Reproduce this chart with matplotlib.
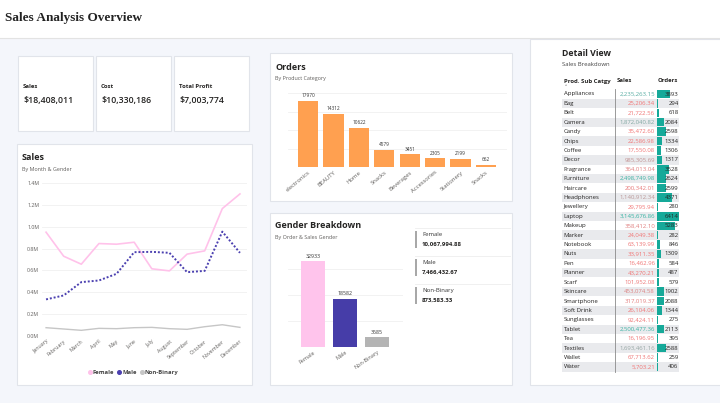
import matplotlib
matplotlib.use('Agg')
import matplotlib.pyplot as plt
from matplotlib.patches import Rectangle
from matplotlib.lines import Line2D
import matplotlib.colors as mcolors
import numpy as np

# ---------------- data ----------------
kpi_labels = ["Sales", "Cost", "Total Profit"]
kpi_values = ["$18,408,011", "$10,330,186", "$7,003,774"]

months = ["January", "February", "March", "April", "May", "June", "July",
          "August", "September", "October", "November", "December"]
female_sales = [950000, 730000, 657000, 846000, 840000, 858000, 615000,
                596000, 749000, 779000, 1166000, 1300000]
male_sales = [335000, 371000, 493000, 508000, 569000, 767000, 770000,
              761000, 584000, 596000, 955000, 761000]
nb_sales = [76000, 64000, 52000, 70000, 67000, 76000, 79000, 67000,
            61000, 85000, 103000, 79000]

order_cats = ["electronics", "BEAUTY", "Home", "Snacks", "Beverages",
              "Accessories", "Stationery", "Snacks"]
order_vals = [17970, 14312, 10622, 4579, 3451, 2305, 2199, 662]

genders = ["Female", "Male", "Non-Binary"]
gender_orders = [32933, 18582, 3685]
gender_sales_txt = ["10,067,994.88", "7,466,432.67", "873,583.33"]

sub_cats = ["Appliances", "Bag", "Belt", "Camera", "Candy", "Chips", "Coffee",
            "Decor", "Fragrance", "Furniture", "Haircare", "Headphones",
            "Jewellery", "Laptop", "Makeup", "Marker", "Notebook", "Nuts",
            "Pen", "Planner", "Scarf", "Skincare", "Smartphone", "Soft Drink",
            "Sunglasses", "Tablet", "Tea", "Textiles", "Wallet", "Water"]
sub_sales = [2235263.15, 25206.34, 21722.56, 1872040.82, 35472.60, 22586.98,
             17550.08, 985305.69, 364013.04, 2498749.98, 200342.01, 1140912.34,
             29795.94, 3145676.86, 358412.10, 24049.38, 63139.99, 33911.35,
             16462.96, 43270.21, 101952.08, 453074.58, 317019.37, 26104.06,
             92424.11, 2500477.36, 16196.95, 1693461.16, 67713.62, 5703.21]
sub_orders = [3893, 294, 618, 2084, 2598, 1334, 1306, 1317, 3528, 2624, 2599,
              4371, 280, 6414, 5283, 282, 846, 1309, 584, 487, 579, 1902, 2088,
              1344, 275, 2113, 395, 2588, 259, 406]

# ---------------- style ----------------
plt.rcParams['font.family'] = ['Open Sans', 'DejaVu Sans']
W, H = 720, 403
BG = '#f4f6fb'
BORDER = '#e1e4ea'
TXT = '#252423'
GREY_TXT = '#605e5c'

fig = plt.figure(figsize=(7.2, 4.03), dpi=100)
fig.patch.set_facecolor(BG)


def rect(x0, y0, x1, y1):
    return [x0 / W, 1 - y1 / H, (x1 - x0) / W, (y1 - y0) / H]


bg = fig.add_axes([0, 0, 1, 1])
bg.set_xlim(0, W)
bg.set_ylim(H, 0)
bg.axis('off')


def card(x0, y0, x1, y1):
    bg.add_patch(Rectangle((x0, y0), x1 - x0, y1 - y0, fc='white', ec=BORDER, lw=0.8))


# header
bg.add_patch(Rectangle((0, 0), W, 38, fc='white', ec='none'))
bg.plot([0, W], [38, 38], color='#e3e3e3', lw=0.8)
bg.text(5, 18, "Sales Analysis Overview", family='Liberation Serif',
        weight='bold', fontsize=9.5, va='center', ha='left', color='#222222')

# KPI cards
kpi_x = [18, 96, 174]
for x, lab, val in zip(kpi_x, kpi_labels, kpi_values):
    card(x, 56, x + 75, 131)
    bg.text(x + 5, 87, lab, fontsize=4.3, weight='bold', va='center', color=TXT)
    bg.text(x + 5, 100.5, val, fontsize=6.3, weight='semibold', va='center', color=TXT)

# other cards
card(17, 144, 252, 385)
card(270, 53, 512, 201)
card(270, 213, 512, 385)
card(530, 39, 721, 385)

# ---------------- Sales line chart ----------------
bg.text(22, 157, "Sales", fontsize=6.5, weight='bold', va='center', color=TXT)
bg.text(22, 169, "By Month & Gender", fontsize=3.9, va='center', color=GREY_TXT)

ax = fig.add_axes(rect(42, 183, 247, 336))
x = np.arange(len(months))
ax.plot(x, female_sales, color='#ffc2ea', lw=1.2, clip_on=False, zorder=3)
ax.plot(x, male_sales, color='#4b40b0', lw=1.4, ls=(0, (1, 1)), clip_on=False, zorder=4)
ax.plot(x, nb_sales, color='#c6c6c6', lw=1.0, clip_on=False, zorder=3)
ax.set_xlim(-0.23, 11.4)
ax.set_ylim(0, 1.4e6)
yt = np.arange(0, 1.41e6, 2e5)
ax.set_yticks(yt)
ax.set_yticklabels([f"{v/1e6:.1f}M" for v in yt], fontsize=3.8, color=GREY_TXT)
ax.set_xticks(x)
ax.set_xticklabels(months, rotation=40, ha='right', rotation_mode='anchor',
                   fontsize=3.8, color=GREY_TXT)
ax.tick_params(length=0, pad=2)
ax.grid(axis='y', color='#f0f0f0', lw=0.6)
ax.set_axisbelow(True)
for s in ax.spines.values():
    s.set_visible(False)
ax.set_facecolor('none')

handles = [Line2D([], [], marker='o', ls='', color=c, markersize=2.6)
           for c in ['#ffc2ea', '#4b40b0', '#c6c6c6']]
leg = fig.legend(handles, ["Female", "Male", "Non-Binary"], loc='center',
                 bbox_to_anchor=(133 / W, 1 - 372 / H), ncol=3, frameon=False,
                 prop={'size': 4.2, 'weight': 'bold'}, handletextpad=0.05,
                 columnspacing=0.5, handlelength=0.8, borderaxespad=0)
for t in leg.get_texts():
    t.set_color('#444444')

# ---------------- Orders bar chart ----------------
bg.text(275, 67, "Orders", fontsize=6.5, weight='bold', va='center', color=TXT)
bg.text(275, 78.5, "By Product Category", fontsize=3.9, va='center', color=GREY_TXT)

ax2 = fig.add_axes(rect(288, 93, 507, 167))
xo = np.arange(len(order_cats))
bars = ax2.bar(xo, order_vals, width=0.79, color='#ffa050', zorder=3)
for b, v in zip(bars, order_vals):
    ax2.text(b.get_x() + b.get_width() / 2, v + 700, str(v), ha='center',
             va='bottom', fontsize=3.4, color='#333333')
ax2.set_xlim(-0.79, 7.83)
ax2.set_ylim(0, 20000)
ax2.set_yticks(np.arange(0, 20001, 5000))
ax2.set_yticklabels([])
ax2.set_xticks(xo)
ax2.set_xticklabels(order_cats, rotation=40, ha='right', rotation_mode='anchor',
                    fontsize=4.2, color=GREY_TXT)
ax2.tick_params(length=0, pad=2)
ax2.grid(axis='y', color='#f0f0f0', lw=0.6)
ax2.set_axisbelow(True)
for s in ax2.spines.values():
    s.set_visible(False)
ax2.set_facecolor('none')

# ---------------- Gender breakdown ----------------
bg.text(275, 226, "Gender Breakdown", fontsize=6.5, weight='bold', va='center', color=TXT)
bg.text(275, 237.5, "By Order & Sales Gender", fontsize=3.9, va='center', color=GREY_TXT)

ax3 = fig.add_axes(rect(288, 256, 403, 347))
xg = np.arange(len(genders))
gbars = ax3.bar(xg, gender_orders, width=0.75,
                color=['#ffc4ec', '#463da8', '#b4b4b4'], zorder=3)
for b, v in zip(gbars, gender_orders):
    ax3.text(b.get_x() + b.get_width() / 2, v + 1000, str(v), ha='center',
             va='bottom', fontsize=3.8, color='#333333')
ax3.set_xlim(-0.78, 2.81)
ax3.set_ylim(0, 35000)
ax3.set_yticks([0, 10000, 20000, 30000])
ax3.set_yticklabels([])
ax3.set_xticks(xg)
ax3.set_xticklabels(genders, rotation=35, ha='right', rotation_mode='anchor',
                    fontsize=4.0, color=GREY_TXT)
ax3.tick_params(length=0, pad=2)
ax3.grid(axis='y', color='#f0f0f0', lw=0.6)
ax3.set_axisbelow(True)
for s in ax3.spines.values():
    s.set_visible(False)
ax3.set_facecolor('none')

for i, (g, v) in enumerate(zip(genders, gender_sales_txt)):
    top = 228 + i * 28
    bg.plot([415, 510], [top, top], color='#eeeeee', lw=0.6)
    bg.add_patch(Rectangle((415, top + 3), 2.2, 17, fc='#a8a8a8', ec='none'))
    bg.text(422, top + 6.5, g, fontsize=4.3, va='center', color='#333333')
    bg.text(422, top + 16, v, fontsize=4.3, weight='bold', va='center', color='#252423')

# ---------------- Detail table ----------------
bg.text(562, 53, "Detail View", fontsize=6.3, weight='bold', va='center', color=TXT)
bg.text(562, 65, "Sales Breakdown", fontsize=4.3, va='center', color='#444444')

row_h = 9.41
y0 = 94
tx0, tx1 = 562, 679
bg.text(564, 81, "Prod. Sub Catgy", fontsize=4.3, weight='bold', va='center', color=TXT)
bg.text(564.5, 86.5, "^", fontsize=2.8, va='center', color=TXT)
bg.text(617, 81, "Sales", fontsize=4.3, weight='bold', va='center', color=TXT)
bg.text(678, 81, "Orders", fontsize=4.3, weight='bold', va='center', ha='right', color=TXT)

lo, hi = min(sub_sales), max(sub_sales)
mid = (lo + hi) / 2
c_red = np.array(mcolors.to_rgb('#f27474'))
c_grey = np.array(mcolors.to_rgb('#a4a4a4'))
c_teal = np.array(mcolors.to_rgb('#33b2a2'))


def sales_color(v):
    if v <= mid:
        t = (v - lo) / (mid - lo)
        return tuple(c_red + (c_grey - c_red) * t)
    t = (v - mid) / (hi - mid)
    return tuple(c_grey + (c_teal - c_grey) * min(1, t * 1.6))


n = len(sub_cats)
for i, (name, sv) in enumerate(zip(sub_cats, sub_sales)):
    yc = y0 + i * row_h
    if i % 2 == 1:
        bg.add_patch(Rectangle((tx0, yc - row_h / 2), tx1 - tx0, row_h,
                               fc='#e9eaed', ec='none'))
    bg.text(563.5, yc, name, fontsize=4.3, va='center', color=TXT)
    bg.text(655, yc, f"{sv:,.2f}", fontsize=4.3, va='center', ha='right',
            color=sales_color(sv))

bg.plot([615, 615], [y0 - row_h / 2, y0 + (n - 0.5) * row_h], color='#8a8a8a', lw=0.6)

axo = fig.add_axes(rect(657, y0 - row_h / 2, 679, y0 + (n - 0.5) * row_h))
yr = np.arange(n)
axo.barh(yr, sub_orders, height=0.9, color='#16a999')
axo.set_xlim(0, max(sub_orders))
axo.set_ylim(n - 0.5, -0.5)
axo.axis('off')
for i, v in enumerate(sub_orders):
    axo.text(0.98, i, str(v), transform=axo.get_yaxis_transform(), fontsize=4.3,
             va='center', ha='right', color=TXT, clip_on=False)

fig.savefig('out.png', dpi=100, facecolor=fig.get_facecolor())
